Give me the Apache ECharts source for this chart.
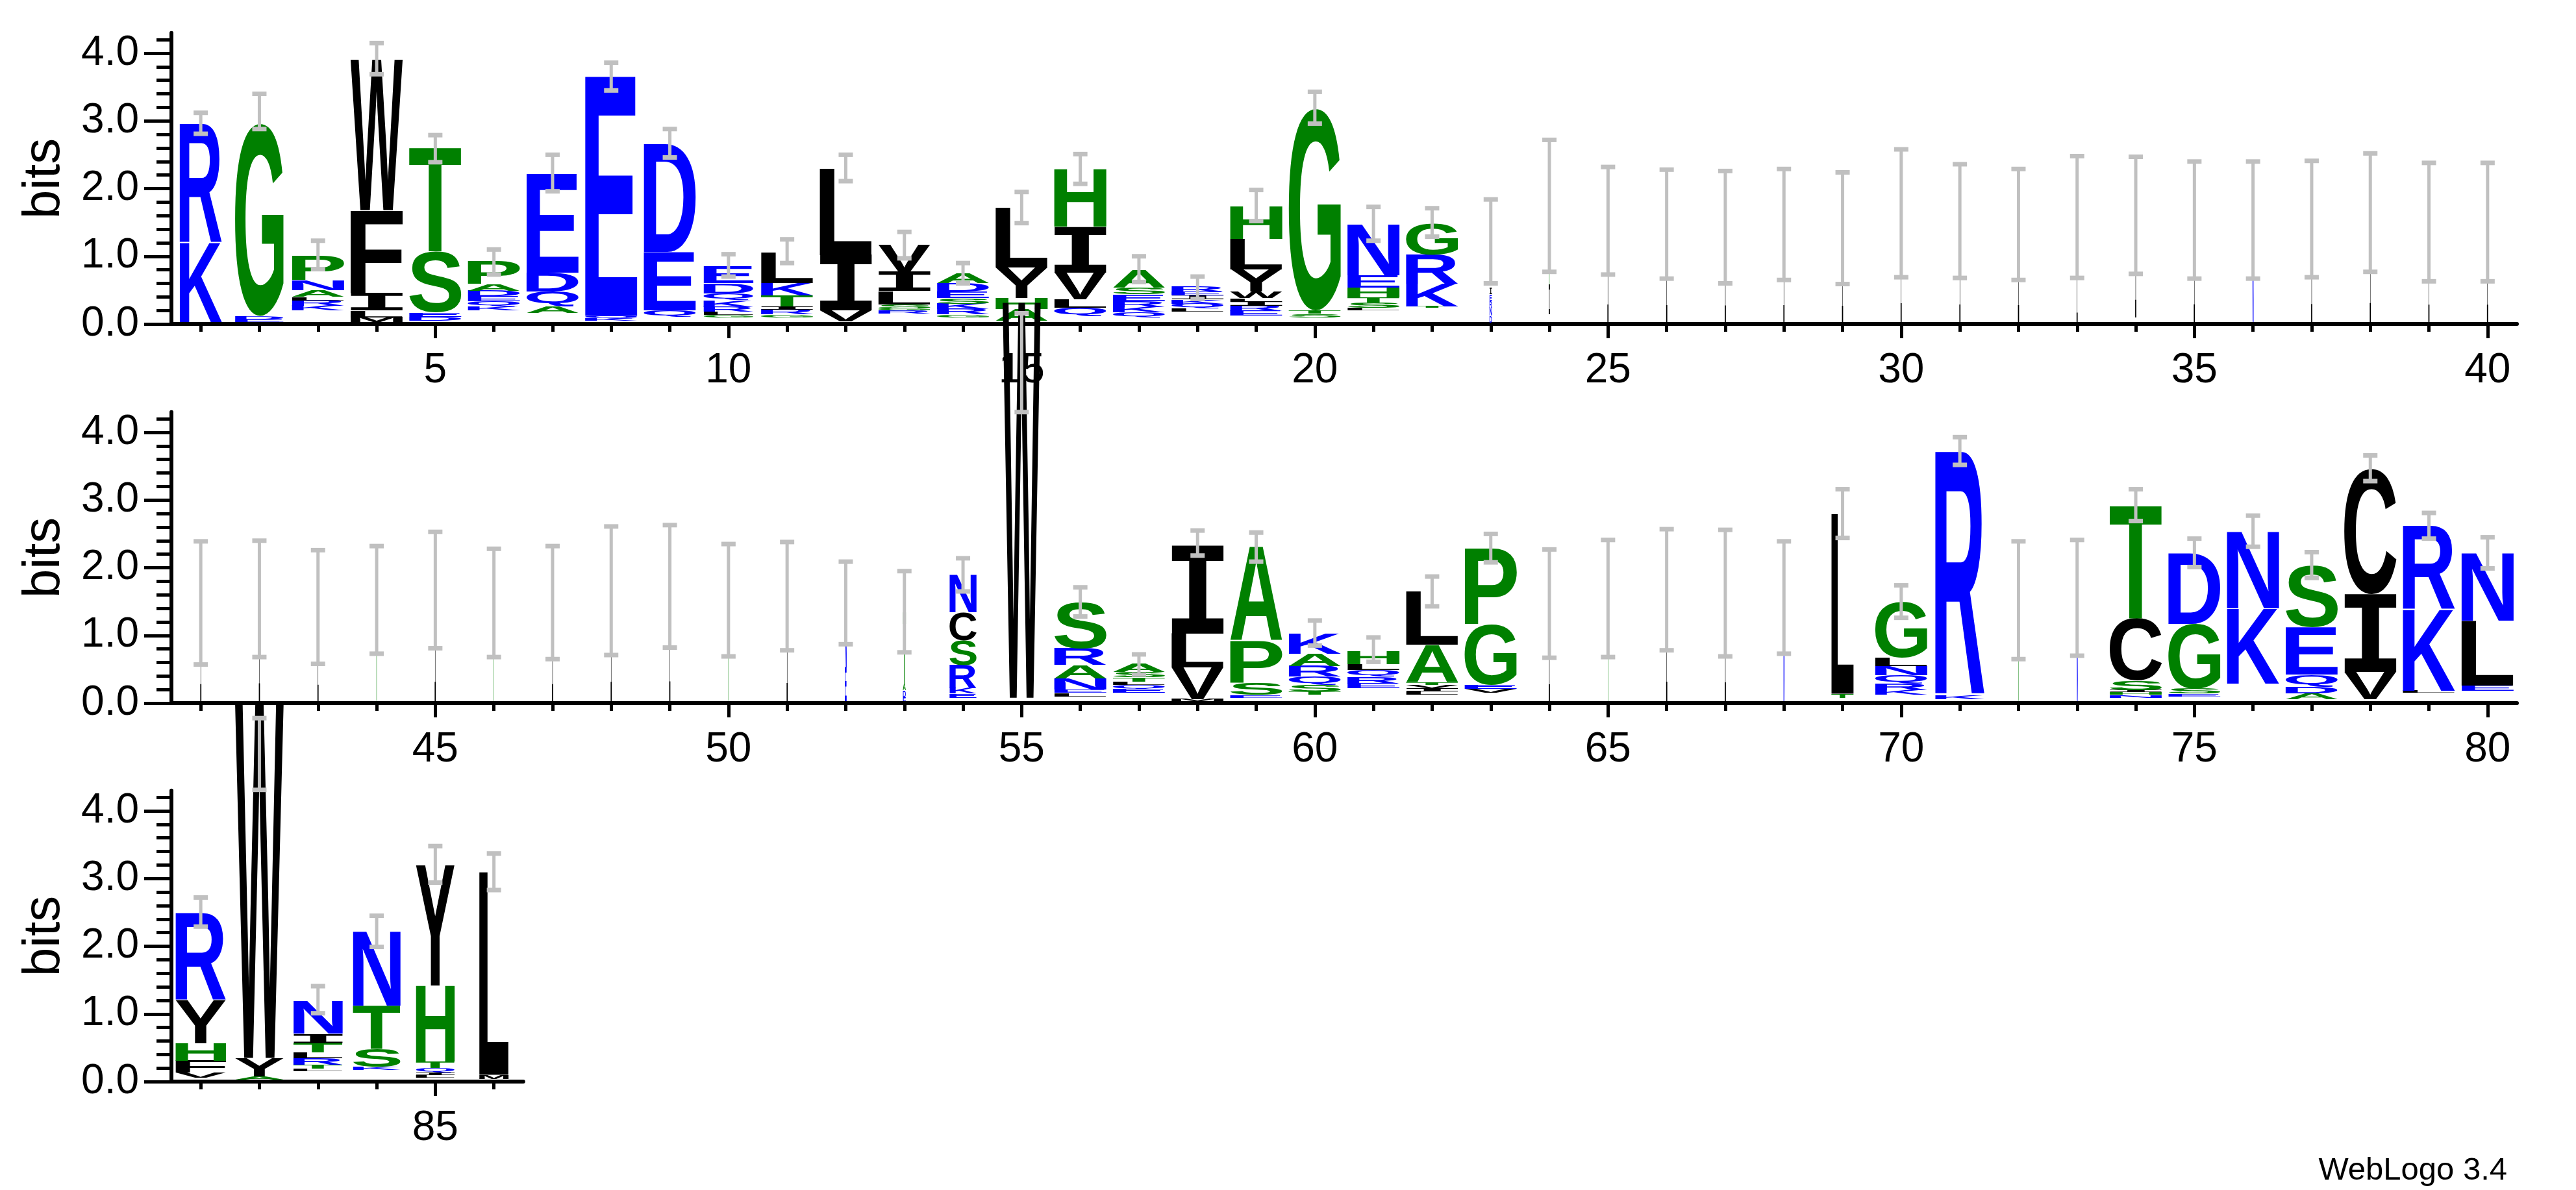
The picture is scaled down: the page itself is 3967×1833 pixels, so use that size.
<!DOCTYPE html>
<html><head><meta charset="utf-8">
<script src="https://cdn.jsdelivr.net/npm/echarts@6/dist/echarts.min.js"></script>
<style>html,body{margin:0;padding:0;background:#fff}#c{width:3967px;height:1833px}</style>
</head><body><div id="c"></div>
<script>
// ---- data ----
const positions = Array.from({length:86},(_, i)=>i+1);
// stacks bottom->top, "_" = empty space, letter + height in bits
const stacks = [
"_0.03 K1.17 R1.76","_0.03 E0.04 D0.05 G2.84","_0.2 K0.07 R0.08 L0.05 A0.1 N0.15 P0.36","_0.03 M0.07 L0.1 I0.26 F1.22 W2.23",
"_0.05 D0.06 E0.06 S0.9 T1.53","_0.2 K0.06 Q0.08 E0.07 D0.08 A0.1 P0.33","_0.16 A0.1 Q0.22 D0.28 E1.46","_0.05 K0.03 Q0.04 E3.54",
"_0.1 Q0.1 E0.86 D1.6","_0.1 G0.03 L0.05 R0.07 K0.1 Q0.1 D0.15 E0.25","_0.1 G0.04 R0.07 I0.05 T0.16 K0.18 L0.45","_0.04 V0.16 I0.82 L1.28",
"_0.15 R0.05 G0.03 S0.06 L0.2 I0.28 V0.41","_0.1 G0.04 R0.08 K0.08 S0.08 E0.1 D0.12 A0.15","_0.05 A0.17 H0.16 Y0.45 L0.88","_0.12 Q0.12 L0.12 V0.4 I0.68 H0.86",
"_0.1 Q0.07 K0.08 R0.09 E0.1 S0.1 A0.26","_0.18 L0.05 Q0.07 K0.06 I0.06 E0.06 R0.07","_0.12 E0.07 R0.08 I0.06 L0.05 W0.1 Y0.33 L0.45 H0.48","_0.1 S0.05 T0.05 G2.98",
"_0.2 L0.04 S0.08 T0.07 H0.15 E0.18 N0.75","_0.24 T0.02 K0.33 R0.43 G0.47","_0.02 D0.1 N0.12 R0.1 E0.1 I0.1","_0.14 I0.44 T1.16",
"_0.03 I1.49","_0.03 I1.44","_0.03 I1.40","_0.03 I1.44","_0.03 I1.38","_0.03 I1.60","_0.03 I1.49","_0.03 I1.44",
"_0.03 I0.8 T0.75","_0.1 I1.5","_0.03 I1.5","_0.03 N1.5","_0.03 I1.52","_0.03 I1.61","_0.03 I1.47","_0.03 I1.47",
"_0.03 I1.45","_0.03 I1.51","_0.03 I1.39","_0.03 T1.49","_0.03 I1.64","_0.03 T0.8 N0.65","_0.03 I1.45","_0.03 I1.63",
"_0.03 I1.69","_0.03 T1.49","_0.03 I1.55","_0.03 E0.5 N0.95","_0.03 E0.06 D0.1 A0.1 T1.06","_0.08 E0.06 K0.08 R0.34 S0.36 C0.42 N0.56",
"_0.08 W5.85","_0.1 L0.05 E0.05 N0.16 A0.2 R0.25 S0.68","_0.15 E0.06 Q0.06 L0.05 T0.06 S0.08 A0.12","_0.03 M0.03 V0.47 L0.5 I1.3",
"_0.08 E0.04 S0.18 P0.62 A1.38","_0.12 T0.05 S0.1 Q0.12 R0.16 A0.18 K0.29","_0.22 E0.07 R0.1 Q0.1 L0.09 H0.2","_0.12 L0.05 I0.05 V0.05 T0.04 A0.55 L0.79",
"_0.15 V0.06 E0.06 G0.9 P1.13","_0.03 I1.44","_0.03 T1.52","_0.03 I1.65","_0.03 I1.6","_0.03 N1.53",
"_0.08 T0.06 L2.66","_0.12 K0.07 R0.1 Q0.12 N0.14 L0.12 G0.82","_0.06 K0.06 R3.6","_0.03 T1.49","_0.03 N1.52",
"_0.08 N0.04 H0.04 I0.03 S0.14 C0.92 T1.67","_0.1 E0.04 S0.07 G0.96 D1.05","_0.29 K1.11 N1.14","_0.06 A0.08 D0.1 Q0.18 E0.7 S0.91",
"_0.06 V0.4 I1.15 C1.85","_0.15 L0.03 K1.2 R1.24","_0.18 E0.08 L0.96 N1.0",
"_0.06 V0.07 F0.18 H0.26 Y0.64 R1.29","_0.03 A0.05 Y0.27 W5.25","_0.15 L0.04 T0.06 R0.1 L0.08 T0.14 I0.14 N0.48","_0.17 K0.05 S0.26 T0.64 N1.1",
"_0.06 L0.04 I0.04 Q0.06 T0.1 H1.12 Y1.78","_0.04 M0.06 L3.0"
];
const widths = [0.72,0.83,0.89,0.89,0.89,0.89,0.89,0.89,0.89,0.85,0.89,0.89,0.89,0.89,0.89,0.89,0.89,0.89,0.89,0.89,0.89,0.89,0.04,
0.02,0.02,0.02,0.02,0.02,0.02,0.02,0.02,0.02,0.02,0.02,0.02,0.02,0.02,0.02,0.02,
0.02,0.02,0.02,0.02,0.02,0.02,0.02,0.02,0.02,0.02,0.02,0.02,0.03,0.05,0.46,0.65,
0.89,0.89,0.89,0.89,0.89,0.89,0.89,0.89,0.02,0.02,0.02,0.02,0.02,0.38,0.89,0.84,0.02,0.02,
0.89,0.89,0.89,0.89,0.89,0.89,0.89,0.86,0.83,0.84,0.81,0.66,0.5];
const errLow = [2.81,2.88,0.81,3.69,2.39,0.73,1.96,3.45,2.46,0.70,0.90,2.11,0.97,0.60,1.49,2.07,0.62,0.37,1.52,2.96,1.23,1.29,0.60,
0.77,0.73,0.67,0.60,0.65,0.59,0.69,0.68,0.65,0.68,0.74,0.67,0.67,0.69,0.77,0.63,0.63,
0.57,0.68,0.58,0.73,0.81,0.68,0.65,0.71,0.82,0.69,0.78,0.87,0.75,1.65,4.30,1.28,0.42,2.18,2.09,0.85,0.61,1.43,2.08,
0.67,0.68,0.78,0.69,0.73,2.44,1.26,3.52,0.65,0.70,2.69,2.01,2.31,1.85,3.28,2.43,1.99,
2.29,4.31,1.01,1.99,2.94,2.83];
const errHigh = [3.12,3.40,1.23,4.15,2.79,1.10,2.50,3.86,2.88,1.03,1.25,2.50,1.36,0.90,1.95,2.51,1.00,0.70,1.98,3.43,1.73,1.71,1.84,
2.72,2.32,2.28,2.26,2.29,2.24,2.58,2.36,2.29,2.48,2.47,2.40,2.40,2.41,2.52,2.38,2.38,
2.39,2.40,2.26,2.32,2.53,2.28,2.32,2.61,2.63,2.35,2.38,2.09,1.95,2.14,5.76,1.71,0.72,2.55,2.52,1.22,0.97,1.87,2.50,
2.27,2.41,2.57,2.56,2.39,3.16,1.74,3.93,2.39,2.41,3.16,2.43,2.77,2.23,3.66,2.81,2.45,
2.72,5.37,1.41,2.45,3.48,3.37];
const rowRanges = [[0.5,40.5],[40.5,80.5],[80.5,86.5]];
const rowTickLabels = [[5,10,15,20,25,30,35,40],[45,50,55,60,65,70,75,80],[85]];
const yLabels = [0,1,2,3,4];

// ---- rendering ----
const FONT = 'bold 200px "Liberation Sans", Arial, sans-serif';
const FONT_I = 'bold 200px "DejaVu Sans Mono", monospace';
const fontOf = ch => ch==='I' ? FONT_I : FONT;
const BLUE='#0000ff', GREEN='#008000', BLACK='#000000';
function colorOf(ch){ if('RKDENQ'.includes(ch)) return BLUE; if('GSTAPH'.includes(ch)) return GREEN; return BLACK; }
const cv=document.createElement('canvas').getContext('2d');
const mcache={};
function metrics(ch){
  if(mcache[ch]) return mcache[ch];
  cv.font=fontOf(ch); cv.textAlign='left'; cv.textBaseline='middle';
  const m=cv.measureText(ch);
  return mcache[ch]={l:m.actualBoundingBoxLeft,r:m.actualBoundingBoxRight,a:m.actualBoundingBoxAscent,d:m.actualBoundingBoxDescent};
}
const parsed = stacks.map(s=>s.split(' ').map(t=>[t[0], parseFloat(t.slice(1))]));

function renderLetters(params, api){
  const i=api.value(1), pos=api.value(0);
  const colW=api.size([1,0])[0];
  const w=colW*widths[i];
  const xc=api.coord([pos,0])[0];
  const x0=xc-w/2;
  let cum=0; const children=[];
  for(const [ch,h] of parsed[i]){
    if(ch!=='_'){
      const yb=api.coord([pos,cum])[1], yt=api.coord([pos,cum+h])[1];
      const hp=yb-yt;
      const m=metrics(ch);
      const sx=w/(m.l+m.r), sy=hp/(m.a+m.d);
      children.push({type:'text', x:x0+m.l*sx, y:yt+m.a*sy, scaleX:sx, scaleY:sy,
        style:{text:ch, font:fontOf(ch), fill:colorOf(ch), align:'left', verticalAlign:'middle', textAlign:'left', textVerticalAlign:'middle'}});
    }
    cum+=h;
  }
  return {type:'group', children};
}
function renderErr(params, api){
  const i=api.value(1), pos=api.value(0);
  const xc=api.coord([pos,0])[0];
  const yl=api.coord([pos,errLow[i]])[1], yh=api.coord([pos,errHigh[i]])[1];
  const cw=11;
  return {type:'group', children:[
    {type:'line', shape:{x1:xc,y1:yl,x2:xc,y2:yh}, style:{stroke:'#c0c0c0', lineWidth:5}},
    {type:'line', shape:{x1:xc-cw,y1:yl,x2:xc+cw,y2:yl}, style:{stroke:'#c0c0c0',lineWidth:7}},
    {type:'line', shape:{x1:xc-cw,y1:yh,x2:xc+cw,y2:yh}, style:{stroke:'#c0c0c0',lineWidth:7}}
  ]};
}

const colPx=90.3, left=264;
const zeros=[499,1083,1666], bitPx=104.25, yMax=4.3;
const grids=[], xAxes=[], yAxes=[], series=[], graphics=[];
const minorY=[]; for(let k=0;k<=21;k++) minorY.push(+(k*0.2).toFixed(1));
const lbl={color:'#000', fontSize:64, fontFamily:'"Liberation Sans", Arial, sans-serif'};
rowRanges.forEach((rg,r)=>{
  const width=(rg[1]-rg[0])*colPx;
  grids.push({left:left, top:zeros[r]-yMax*bitPx, width:width, height:yMax*bitPx});
  const ints=[]; for(let p=Math.ceil(rg[0]);p<rg[1];p++) ints.push(p);
  xAxes.push({type:'value', gridIndex:r, min:rg[0], max:rg[1], position:'bottom',
    axisLine:{show:true,onZero:false,lineStyle:{color:'#000',width:6}},
    axisTick:{show:true, customValues:ints, length:12, lineStyle:{color:'#000',width:5}},
    axisLabel:{show:false}, splitLine:{show:false}});
  xAxes.push({type:'value', gridIndex:r, min:rg[0], max:rg[1], position:'bottom',
    axisLine:{show:false,onZero:false},
    axisTick:{show:true, customValues:rowTickLabels[r], length:22, lineStyle:{color:'#000',width:5}},
    axisLabel:Object.assign({show:true, customValues:rowTickLabels[r], margin:40}, lbl), splitLine:{show:false}});
  yAxes.push({type:'value', gridIndex:r, min:0, max:yMax, position:'left',
    axisLine:{show:true,onZero:false,lineStyle:{color:'#000',width:6}},
    axisTick:{show:true, customValues:minorY, length:23, lineStyle:{color:'#000',width:5}},
    axisLabel:{show:false}, splitLine:{show:false}});
  yAxes.push({type:'value', gridIndex:r, min:0, max:yMax, position:'left',
    axisLine:{show:false,onZero:false},
    axisTick:{show:true, customValues:yLabels, length:42, lineStyle:{color:'#000',width:5}},
    axisLabel:Object.assign({show:true, customValues:yLabels, margin:50, formatter:v=>v.toFixed(1)}, lbl), splitLine:{show:false}});
  const data=positions.map((p,i)=>[p,i]).filter(d=>d[0]>rg[0]&&d[0]<rg[1]);
  series.push({type:'custom', xAxisIndex:2*r, yAxisIndex:2*r, data, renderItem:renderLetters, clip:false, z:5, silent:true});
  series.push({type:'custom', xAxisIndex:2*r, yAxisIndex:2*r, data, renderItem:renderErr, clip:false, z:6, silent:true});
  graphics.push({type:'text', x:69, y:zeros[r]-224, rotation:Math.PI/2,
    style:{text:'bits', font:'80px "Liberation Sans", Arial, sans-serif', fill:'#000', align:'center', verticalAlign:'middle', textAlign:'center', textVerticalAlign:'middle'}});
});
graphics.push({type:'text', right:106, top:1779, style:{text:'WebLogo 3.4', font:'49px "Liberation Sans", Arial, sans-serif', fill:'#000'}});

const chart=echarts.init(document.getElementById('c'),null,{renderer:'canvas'});
chart.setOption({animation:false, backgroundColor:'#fff', grid:grids, xAxis:xAxes, yAxis:yAxes, series, graphic:graphics});
</script></body></html>
